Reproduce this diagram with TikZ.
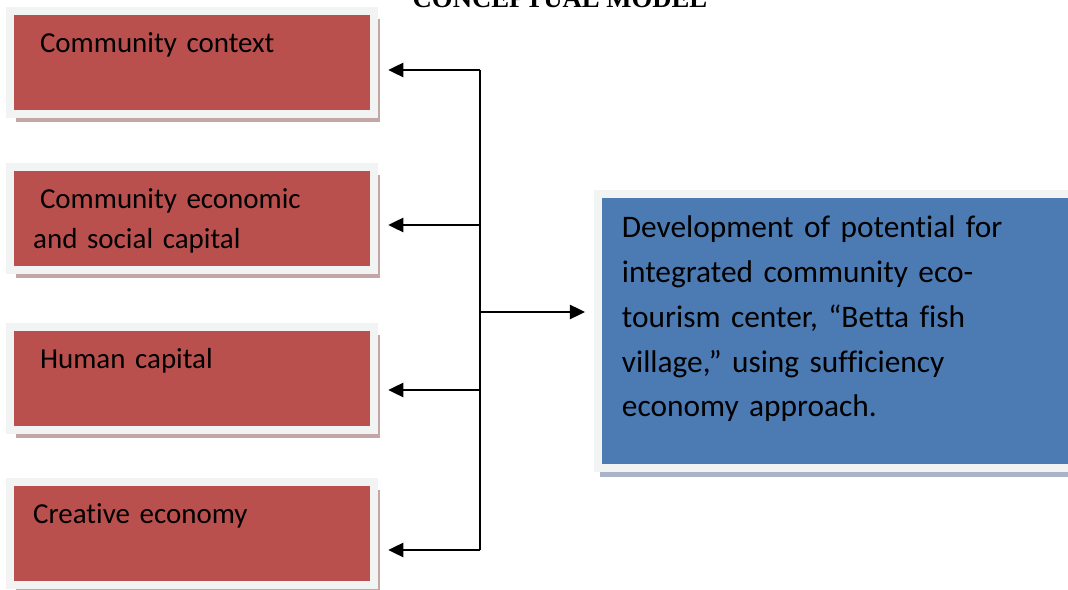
\documentclass[tikz,border=0pt]{standalone}
\usepackage{fontspec}
\setmainfont{Carlito}[Ligatures=NoCommon]
\newfontfamily\titlefont{Liberation Serif}
\usetikzlibrary{arrows.meta, positioning, shadows}
\definecolor{boxred}{HTML}{B9504E}
\definecolor{boxblue}{HTML}{4C7BB4}
\definecolor{framegray}{HTML}{F2F4F4}
\definecolor{shadowred}{HTML}{C2A7A6}
\definecolor{shadowblue}{HTML}{A9B4C6}

\begin{document}
\begin{tikzpicture}[
  x=0.025cm, y=-0.025cm,
  factor/.style={rectangle, fill=boxred, draw=framegray, line width=0.19cm, outer sep=0pt,
                 minimum width=9.1cm, minimum height=2.575cm,
                 inner xsep=0.575cm, inner ysep=0pt, text width=7.95cm, align=left,
                 text height=1.0375cm, text depth=1.5375cm,
                 font=\fontsize{20.6}{28.5}\selectfont, text=black,
                 drop shadow={shadow xshift=0.15cm, shadow yshift=-0.2cm, fill=shadowred, opacity=1}},
  goalbox/.style={rectangle, fill=boxblue, draw=framegray, line width=0.2cm, outer sep=0pt,
                  minimum width=12.3cm, minimum height=6.85cm,
                  inner xsep=0.6cm, inner ysep=0pt, text width=11.1cm, align=left,
                  text height=1.1cm, text depth=5.75cm,
                  font=\fontsize{22.3}{31.8}\selectfont, text=black,
                  drop shadow={shadow xshift=0.05cm, shadow yshift=-0.225cm, fill=shadowblue, opacity=1}},
  line/.style={line width=0.9pt, color=black},
  arr/.style={-{Triangle[length=0.375cm, width=0.36cm]}, line width=0.9pt, color=black},
]
\useasboundingbox (0,0) rectangle (1068,590);
\clip (0,0) rectangle (1068,590);
\node[font=\titlefont\bfseries\fontsize{19}{19}\selectfont, anchor=base] (title) at (560,8) {CONCEPTUAL MODEL};
\node[factor] (ctx) at (192.25,62.5) {\hspace*{0.17cm}Community context};
\node[factor, below=1.325cm of ctx]  (ecap) {\hspace*{0.17cm}Community economic\\and social capital};
\node[factor, below=1.425cm of ecap] (hcap) {\hspace*{0.17cm}Human capital};
\node[factor, below=1.3cm of hcap]   (crea) {Creative economy};
\node[goalbox] (goal) at (844,331) {Development of potential for\\integrated community eco-\\tourism center, “Betta fish\\village,” using sufficiency\\economy approach.};
\coordinate (t1) at (480,70);
\coordinate (t2) at (480,225);
\coordinate (t3) at (480,390);
\coordinate (t4) at (480,550);
\coordinate (tm) at (480,312);
\draw[line] (t1) -- (t4);
\draw[arr, shorten >=0.35cm] (t1) -- (t1 -| ctx.east);
\draw[arr, shorten >=0.35cm] (t2) -- (t2 -| ecap.east);
\draw[arr, shorten >=0.35cm] (t3) -- (t3 -| hcap.east);
\draw[arr, shorten >=0.35cm] (t4) -- (t4 -| crea.east);
\draw[arr, shorten >=0.325cm] (tm) -- (tm -| goal.west);
\end{tikzpicture}
\end{document}
